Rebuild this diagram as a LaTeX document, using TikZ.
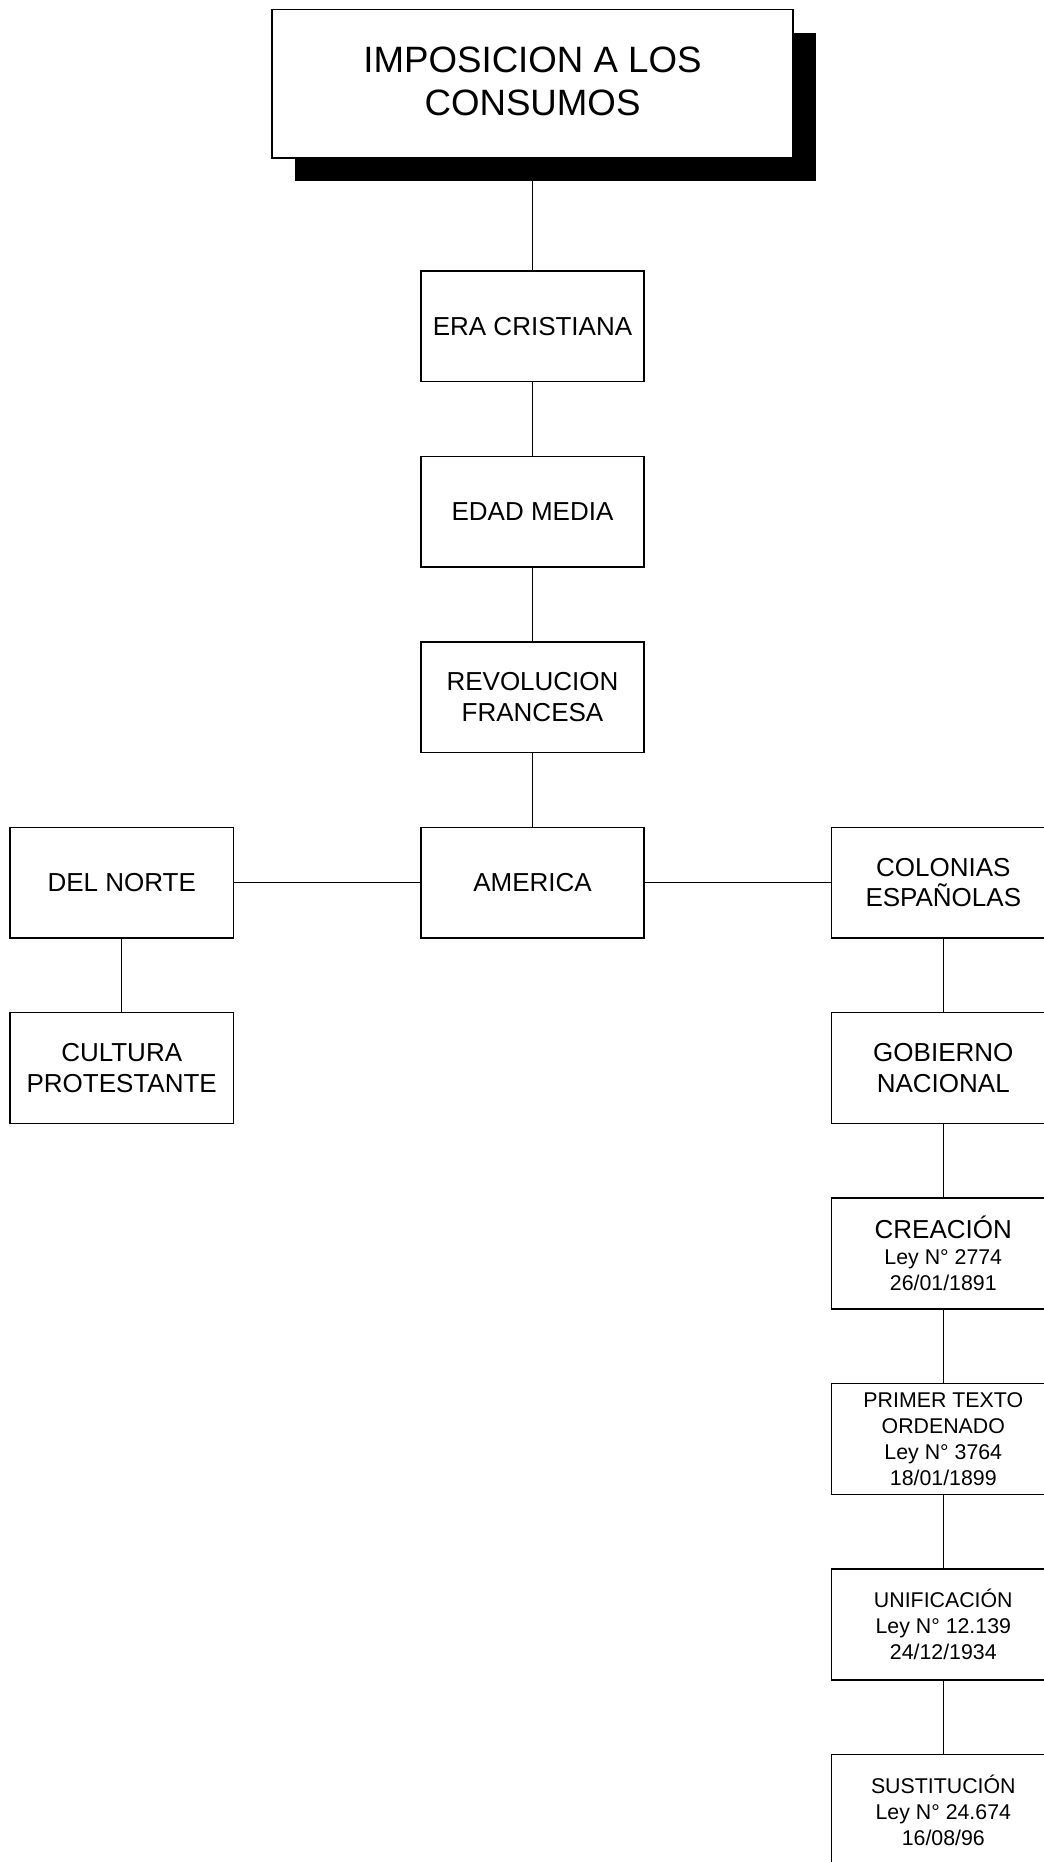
\documentclass[tikz,border=0pt]{standalone}
\usepackage{fontspec}
\setmainfont{Liberation Sans}
\usetikzlibrary{positioning,shadows}

\begin{document}
\begin{tikzpicture}[x=0.75pt,y=-0.75pt,
    box/.style={rectangle,draw,line width=1.1pt,minimum width=167.5pt,minimum height=83pt,
      align=center,inner sep=2pt,font=\fontsize{19.5}{23}\selectfont},
    smallbox/.style={box,font=\fontsize{16}{19.5}\selectfont},
    link/.style={line width=1.1pt},
    node distance=55pt and 139.5pt]
  \useasboundingbox (0,0) rectangle (1044,1862);

  \node[rectangle,draw,line width=1.1pt,fill=white,minimum width=391pt,minimum height=111.5pt,
    align=center,text depth=3.5pt,font=\fontsize{27.5}{32}\selectfont,
    drop shadow={shadow xshift=17pt,shadow yshift=-17.5pt,fill=black,opacity=1}] (imp) at (532.5,83.75)
    {IMPOSICION A LOS\\CONSUMOS};
  \node[box,below=83.5pt of imp] (era) {ERA CRISTIANA};
  \node[box,below=of era] (edad) {EDAD MEDIA};
  \node[box,below=of edad] (rev) {REVOLUCION\\FRANCESA};
  \node[box,below=of rev] (am) {AMERICA};
  \node[box,left=of am] (norte) {DEL NORTE};
  \node[box,below=of norte] (cult) {CULTURA\\PROTESTANTE};
  \node[box,right=of am] (col) {COLONIAS\\ESPAÑOLAS};
  \node[box,below=of col] (gob) {GOBIERNO\\NACIONAL};
  \node[smallbox,below=of gob] (crea) {{\fontsize{19.5}{23}\selectfont CREACIÓN}\\Ley N° 2774\\26/01/1891};
  \node[smallbox,below=of crea] (prim) {PRIMER TEXTO\\ORDENADO\\Ley N° 3764\\18/01/1899};
  \node[smallbox,below=of prim] (unif) {UNIFICACIÓN\\Ley N° 12.139\\24/12/1934};
  \node[smallbox,below=of unif] (sust) {SUSTITUCIÓN\\Ley N° 24.674\\16/08/96};

  \draw[link] (imp) -- (era);
  \draw[link] (era) -- (edad);
  \draw[link] (edad) -- (rev);
  \draw[link] (rev) -- (am);
  \draw[link] (am) -- (norte);
  \draw[link] (am) -- (col);
  \draw[link] (norte) -- (cult);
  \draw[link] (col) -- (gob);
  \draw[link] (gob) -- (crea);
  \draw[link] (crea) -- (prim);
  \draw[link] (prim) -- (unif);
  \draw[link] (unif) -- (sust);
\end{tikzpicture}
\end{document}
